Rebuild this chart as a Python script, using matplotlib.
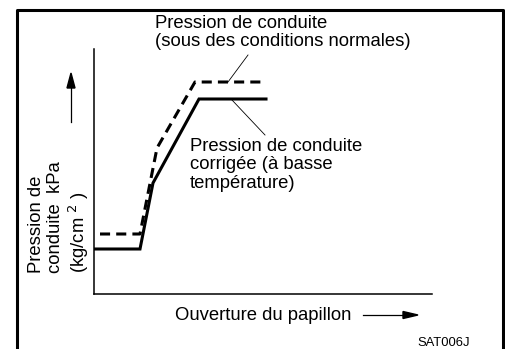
import matplotlib.pyplot as plt

W, H = 505, 349

# throttle opening (x) vs line pressure (y), arbitrary units
corr_x = [0, 46, 59, 105, 172]
corr_y = [45, 45, 111, 195, 195]
norm_x = [6, 46, 63, 101, 172]
norm_y = [60, 60, 146, 212, 212]

label_norm = "Pression de conduite\n(sous des conditions normales)"
label_corr = "Pression de conduite\ncorrigée (à basse\ntempérature)"
ylabel = "Pression de\nconduite  kPa\n(kg/cm $^{2}$ )"
xlabel = "Ouverture du papillon"
code = "SAT006J"


def fx(x):
    return x / W


def fy(y):
    return 1 - y / H


plt.rcParams['font.family'] = ['Liberation Sans', 'DejaVu Sans']

fig = plt.figure(figsize=(W / 100, H / 100), dpi=100)

# outer frame (open at the bottom)
fig.add_artist(plt.Line2D([fx(17), fx(17), fx(503), fx(503)],
                          [0, fy(10), fy(10), 0], color='black', lw=2.2))

ax = fig.add_axes([fx(94), fy(294), (432 - 94) / W, (294 - 49) / H])
ax.set_xlim(0, 338)
ax.set_ylim(0, 245)
for s in ('top', 'right'):
    ax.spines[s].set_visible(False)
for s in ('left', 'bottom'):
    ax.spines[s].set_linewidth(1.1)
ax.set_xticks([])
ax.set_yticks([])
ax.patch.set_alpha(0)

ax.plot(corr_x, corr_y, color='black', lw=2.2, solid_joinstyle='miter')
ax.plot(norm_x, norm_y, color='black', lw=2.2, linestyle=(0, (3.3, 2.0)))

# leader lines
ax.plot([228 - 94, 248 - 94], [294 - 82, 294 - 55], color='black', lw=0.6)
ax.plot([232 - 94, 265 - 94], [294 - 100, 294 - 135], color='black', lw=0.6)

fs = 13.3
fig.text(fx(155), fy(15), label_norm, fontsize=fs, va='top', ha='left',
         linespacing=1.08)
fig.text(fx(190), fy(138), label_corr, fontsize=fs, va='top', ha='left',
         linespacing=1.1)
fig.text(fx(28), fy(273), ylabel, fontsize=fs, rotation=90, va='bottom',
         ha='left', multialignment='left', linespacing=1.15)
fig.text(fx(175), fy(315), xlabel, fontsize=fs, va='center', ha='left')
fig.text(fx(470), fy(343), code, fontsize=9.4, va='center', ha='right')

# direction arrows
fig.add_artist(plt.Line2D([fx(71), fx(71)], [fy(122), fy(85)], color='black', lw=0.9))
fig.add_artist(plt.Polygon([[fx(67), fy(88)], [fx(75), fy(88)], [fx(71), fy(73)]],
                           closed=True, color='black'))
fig.add_artist(plt.Line2D([fx(363), fx(405)], [fy(315), fy(315)], color='black', lw=0.9))
fig.add_artist(plt.Polygon([[fx(403), fy(311.5)], [fx(403), fy(318.5)], [fx(418), fy(315)]],
                           closed=True, color='black'))

fig.savefig('out.png', dpi=100)
